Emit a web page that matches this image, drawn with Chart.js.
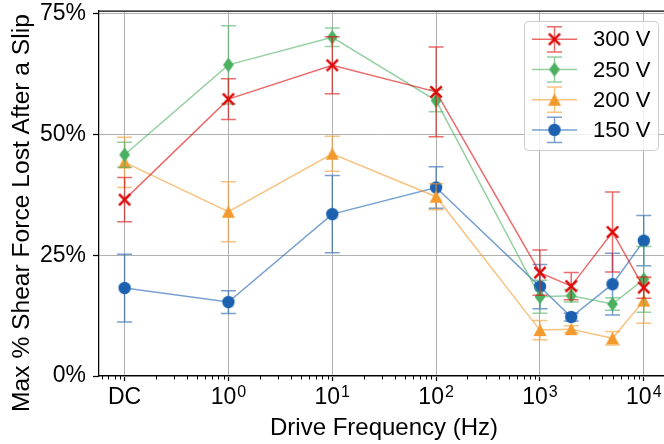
<!DOCTYPE html>
<html>
<head>
<meta charset="utf-8">
<script src="https://cdn.jsdelivr.net/npm/chart.js@4.4.0/dist/chart.umd.min.js"></script>
<style>
  html, body { margin: 0; padding: 0; background: #fff; overflow: hidden; }
  #wrap { width: 664px; height: 444px; overflow: hidden; }
</style>
</head>
<body>
<div id="wrap"><canvas id="chart" width="672" height="444"></canvas></div>
<script>
// drive frequency, DC is put at 0.1 Hz on the log axis
const freqs = [0.1, 1, 10, 100, 1000, 2000, 5000, 10000];

const seriesLabels = ['300 V', '250 V', '200 V', '150 V'];
const vals300 = [36.5, 57.3, 64.3, 58.8, 21.4, 18.6, 29.8, 18.3];
const errs300 = [4.6, 4.2, 5.9, 9.3, 4.7, 2.8, 8.3, 2.2];
const vals250 = [45.8, 64.4, 70.1, 57.0, 16.4, 16.6, 14.9, 20.0];
const errs250 = [2.6, 8.1, 1.9, 2.3, 3.4, 1.3, 1.3, 6.8];
const vals200 = [44.2, 34.0, 46.0, 37.1, 9.5, 9.7, 7.8, 15.6];
const errs200 = [5.2, 6.2, 3.6, 2.7, 2.0, 0.7, 1.4, 4.7];
const vals150 = [18.2, 15.3, 33.5, 39.0, 18.5, 12.2, 19.0, 28.0];
const errs150 = [7.0, 2.35, 8.0, 4.3, 4.6, 0.8, 6.4, 5.2];

const xTickValues = [0.1, 1, 10, 100, 1000, 10000];
const xTickBase = ['DC', '10', '10', '10', '10', '10'];
const xTickExp = ['', '0', '1', '2', '3', '4'];
const yTickValues = [0, 25, 50, 75];

const FONT = '"Liberation Sans", Arial, sans-serif';

// marker images (also reused in the legend)
const makeMarker = (kind, color) => {
    const c = document.createElement('canvas');
    c.width = 20; c.height = 20;
    const g = c.getContext('2d');
    g.translate(10, 10);
    g.fillStyle = color;
    g.strokeStyle = color;
    if (kind === 'x') {
        g.lineWidth = 2.5;
        g.beginPath();
        g.moveTo(-5.6, -5.6); g.lineTo(5.6, 5.6);
        g.moveTo(-5.6, 5.6); g.lineTo(5.6, -5.6);
        g.stroke();
    } else if (kind === 'diamond') {
        g.beginPath();
        g.moveTo(0, -7.2); g.lineTo(5.4, 0); g.lineTo(0, 7.2); g.lineTo(-5.4, 0);
        g.closePath(); g.fill();
    } else if (kind === 'triangle') {
        g.beginPath();
        g.moveTo(0, -6.3); g.lineTo(6.5, 6); g.lineTo(-6.5, 6);
        g.closePath(); g.fill();
    } else {
        g.beginPath();
        g.arc(0, 0, 6.2, 0, Math.PI * 2);
        g.fill();
    }
    return c;
};

const makeSet = (label, vals, errs, marker, rgb) => ({
    label: label,
    data: freqs.map((f, i) => ({ x: f, y: vals[i] })),
    errors: errs,
    borderColor: `rgba(${rgb},0.6)`,
    backgroundColor: `rgb(${rgb})`,
    borderWidth: 1.5,
    pointStyle: makeMarker(marker, `rgb(${rgb})`),
    pointRadius: 6,
    fill: false,
    tension: 0
});

const datasets = [
    makeSet(seriesLabels[0], vals300, errs300, 'x', '221,8,8'),
    makeSet(seriesLabels[1], vals250, errs250, 'diamond', '76,176,99'),
    makeSet(seriesLabels[2], vals200, errs200, 'triangle', '243,154,44'),
    makeSet(seriesLabels[3], vals150, errs150, 'circle', '28,97,176')
];

// error bars, drawn right before each dataset so layering follows the datasets
const errorBars = {
    id: 'errorBars',
    beforeDatasetDraw(chart, args) {
        const ds = chart.data.datasets[args.index];
        const xs = chart.scales.x, ys = chart.scales.y;
        const ctx = chart.ctx;
        ctx.save();
        ctx.strokeStyle = ds.borderColor;
        ctx.lineWidth = 1.5;
        ds.data.forEach((p, i) => {
            const px = xs.getPixelForValue(p.x);
            const top = ys.getPixelForValue(p.y + ds.errors[i]);
            const bot = ys.getPixelForValue(p.y - ds.errors[i]);
            ctx.beginPath();
            ctx.moveTo(px, top); ctx.lineTo(px, bot);
            ctx.moveTo(px - 7.5, top); ctx.lineTo(px + 7.5, top);
            ctx.moveTo(px - 7.5, bot); ctx.lineTo(px + 7.5, bot);
            ctx.stroke();
        });
        ctx.restore();
    }
};

// top spine, minor ticks, x tick labels with exponents, axis titles, legend
const decorations = {
    id: 'decorations',
    afterDraw(chart) {
        const ctx = chart.ctx;
        const area = chart.chartArea;
        const xs = chart.scales.x;
        ctx.save();

        ctx.strokeStyle = '#000';
        ctx.lineWidth = 1.25;
        ctx.beginPath();
        ctx.moveTo(area.left, area.top);
        ctx.lineTo(chart.width, area.top);
        ctx.stroke();

        // minor ticks of the log axis
        ctx.lineWidth = 1;
        for (let d = -2; d <= 4; d++) {
            for (let k = 2; k <= 9; k++) {
                const v = k * Math.pow(10, d);
                if (v < xs.min || v > xs.max) continue;
                const px = Math.round(xs.getPixelForValue(v)) + 0.5;
                ctx.beginPath();
                ctx.moveTo(px, area.bottom);
                ctx.lineTo(px, area.bottom + 3.5);
                ctx.stroke();
            }
        }

        // x tick labels
        ctx.fillStyle = '#000';
        ctx.textBaseline = 'alphabetic';
        xTickValues.forEach((v, i) => {
            const px = xs.getPixelForValue(v);
            ctx.font = `23px ${FONT}`;
            const wb = ctx.measureText(xTickBase[i]).width;
            ctx.font = `16px ${FONT}`;
            const we = xTickExp[i] ? ctx.measureText(xTickExp[i]).width + 1 : 0;
            const x0 = px - (wb + we) / 2;
            ctx.font = `23px ${FONT}`;
            ctx.textAlign = 'left';
            ctx.fillText(xTickBase[i], x0, area.bottom + 28);
            if (xTickExp[i]) {
                ctx.font = `16px ${FONT}`;
                ctx.fillText(xTickExp[i], x0 + wb + 1, area.bottom + 21);
            }
        });

        // axis titles
        ctx.font = `24px ${FONT}`;
        ctx.textAlign = 'center';
        ctx.fillText('Drive Frequency (Hz)', 384, 435);
        ctx.save();
        ctx.font = `24.6px ${FONT}`;
        ctx.translate(28.5, 213);
        ctx.rotate(-Math.PI / 2);
        ctx.fillText('Max % Shear Force Lost After a Slip', 0, 0);
        ctx.restore();

        // legend
        const lx = 524, ly = area.top + 10, lw = 134, lh = 129;
        ctx.fillStyle = 'rgba(255,255,255,0.8)';
        ctx.strokeStyle = '#cccccc';
        ctx.lineWidth = 1;
        ctx.beginPath();
        ctx.roundRect(lx + 0.5, ly + 0.5, lw, lh, 4);
        ctx.fill();
        ctx.stroke();
        chart.data.datasets.forEach((ds, i) => {
            const cy = ly + 18.3 + i * 30.2;
            const mx = lx + 30.5;
            ctx.strokeStyle = ds.borderColor;
            ctx.lineWidth = 1.5;
            ctx.beginPath();
            ctx.moveTo(lx + 8, cy); ctx.lineTo(lx + 53, cy);
            ctx.moveTo(mx, cy - 12.6); ctx.lineTo(mx, cy + 12.6);
            ctx.moveTo(mx - 7.5, cy - 12.6); ctx.lineTo(mx + 7.5, cy - 12.6);
            ctx.moveTo(mx - 7.5, cy + 12.6); ctx.lineTo(mx + 7.5, cy + 12.6);
            ctx.stroke();
            ctx.drawImage(ds.pointStyle, mx - 10, cy - 10);
            ctx.fillStyle = '#000';
            ctx.font = `22px ${FONT}`;
            ctx.textAlign = 'left';
            ctx.textBaseline = 'middle';
            ctx.fillText(ds.label, lx + 69, cy + 1);
        });

        ctx.restore();
    }
};

new Chart(document.getElementById('chart'), {
    type: 'line',
    data: { datasets: datasets },
    options: {
        responsive: false,
        animation: false,
        layout: { padding: { top: 11, right: 0, bottom: 0, left: 0 } },
        plugins: {
            legend: { display: false },
            tooltip: { enabled: false }
        },
        scales: {
            x: {
                type: 'logarithmic',
                min: 0.05671,
                max: 15830,
                afterBuildTicks: (scale) => {
                    scale.ticks = xTickValues.map(v => ({ value: v }));
                },
                afterFit: (scale) => {
                    scale.height = 68;
                    scale.paddingLeft = 0;
                    scale.paddingRight = 0;
                },
                ticks: { display: false },
                grid: { color: '#b0b0b0', lineWidth: 1, tickColor: '#000', tickLength: 5, tickWidth: 1.25 },
                border: { color: '#000', width: 1.25 }
            },
            y: {
                type: 'linear',
                min: 0,
                max: 75.54,
                afterBuildTicks: (scale) => {
                    scale.ticks = yTickValues.map(v => ({ value: v }));
                },
                afterFit: (scale) => {
                    scale.width = 99;
                    scale.paddingTop = 0;
                    scale.paddingBottom = 0;
                },
                ticks: {
                    color: '#000',
                    padding: 7,
                    font: { family: FONT, size: 23 },
                    callback: (v) => v + '%'
                },
                grid: { color: '#b0b0b0', lineWidth: 1, tickColor: '#000', tickLength: 6, tickWidth: 1.25 },
                border: { color: '#000', width: 1.25 }
            }
        }
    },
    plugins: [errorBars, decorations]
});
</script>
</body>
</html>
